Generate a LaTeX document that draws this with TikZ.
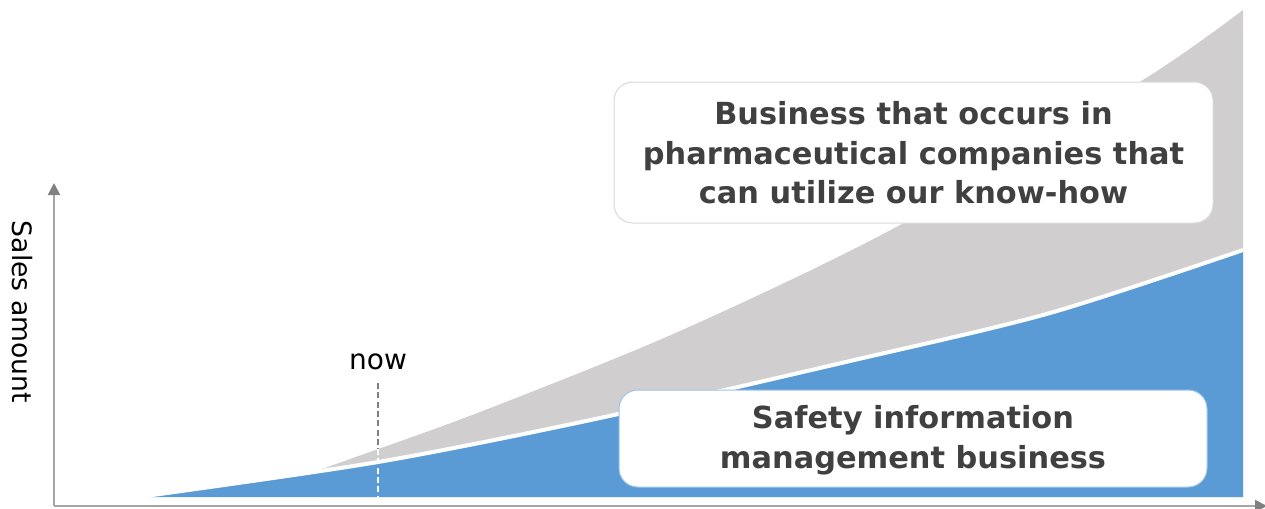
\documentclass[tikz,border=0pt]{standalone}
\usepackage{fontspec}
\setmainfont{DejaVu Sans}
\usetikzlibrary{arrows.meta}
\definecolor{chartblue}{HTML}{5B9BD5}
\definecolor{chartgray}{HTML}{D0CECE}
\definecolor{txtgray}{HTML}{404040}
\definecolor{axisgray}{HTML}{A6A6A6}
\definecolor{tipgray}{HTML}{808080}
\definecolor{boxline}{HTML}{D9D9D9}
\definecolor{boxblue}{HTML}{9DC3E6}
\tikzset{
  axisline/.style={draw=axisgray, line width=1.5pt, -{Triangle[width=9pt,length=9pt,color=tipgray]}},
  labelbox/.style={rounded corners=14pt, fill=white, line width=0.75pt, align=center, text=txtgray,
     font=\fontsize{22.8}{29.6}\selectfont\bfseries, inner sep=0pt},
  plaintext/.style={text=black, font=\fontsize{20}{22}\selectfont, inner sep=0pt},
}
\begin{document}
\begin{tikzpicture}[x=0.75pt,y=-0.75pt]
\useasboundingbox (0,0) rectangle (1265,508);
% gray region
\fill[chartgray] plot[smooth] coordinates {(322,469) (350,459) (480,412) (680,331) (900,225) (1143,80) (1243,10)}
  -- (1243,497) -- (322,497) -- cycle;
% blue region
\fill[chartblue] plot[smooth] coordinates {(138,497) (378,462) (600,418) (850,361) (1050,313) (1243,250)}
  -- (1243,497) -- cycle;
% white separating line
\draw[white, line width=3pt] plot[smooth] coordinates {(138,497) (378,462) (600,418) (850,361) (1050,313) (1243,250)};
% axes
\coordinate (origin) at (54,506);
\coordinate (ytip) at (54,183);
\coordinate (xtip) at (1267,506);
\draw[axisline] (origin) -- (ytip);
\draw[axisline] (origin) -- (xtip);
% now line
\coordinate (nowtop) at (378,383);
\coordinate (nowmid) at (378,449);
\coordinate (nowbot) at (378,500);
\draw[gray, line width=1.2pt, dash pattern=on 4.5pt off 2.5pt] (nowtop) -- (nowmid);
\draw[white, line width=1.2pt, dash pattern=on 4.5pt off 2.5pt] (nowmid) -- (nowbot);
\node[plaintext, font=\fontsize{21}{22}\selectfont] (now) at (378,362) {now};
\node[plaintext, rotate=-90] (sales) at (22,312) {Sales amount};
% boxes
\draw[labelbox, draw=boxline] (614,82) rectangle (1213,223);
\node[labelbox, fill=none] (upper) at (913.5,153) {Business that occurs in\\pharmaceutical companies that\\can utilize our know-how};
\draw[labelbox, draw=boxblue] (619,390) rectangle (1207,487);
\node[labelbox, fill=none] (lower) at (913,440) {Safety information\\management business};
\end{tikzpicture}
\end{document}
